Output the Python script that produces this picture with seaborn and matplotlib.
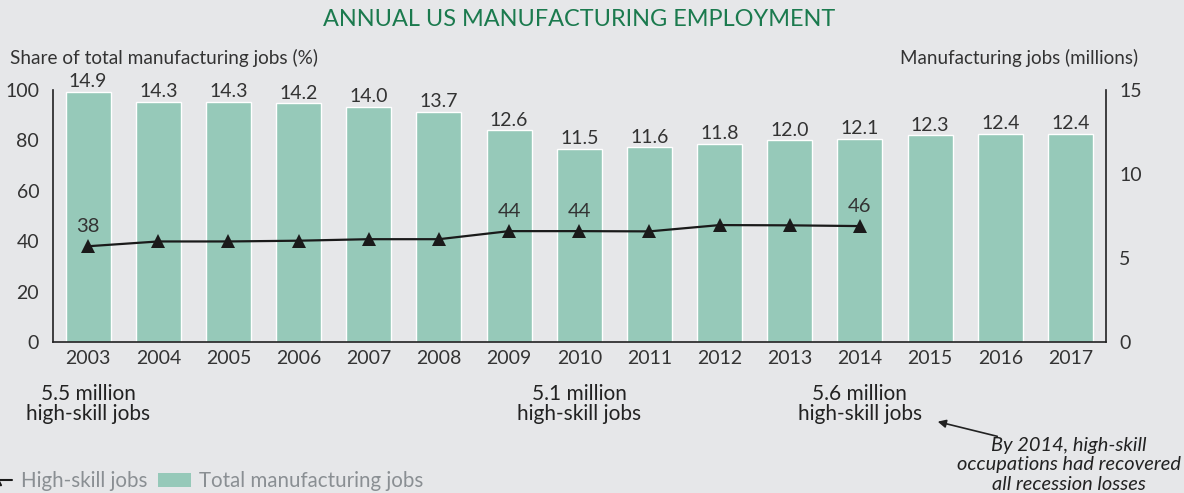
import numpy as np
import pandas as pd
import matplotlib
matplotlib.use("Agg")
import matplotlib.pyplot as plt
import matplotlib.transforms as mtransforms
from matplotlib.lines import Line2D
from matplotlib.patches import Patch
import seaborn as sns

years = ["2003", "2004", "2005", "2006", "2007", "2008", "2009", "2010",
         "2011", "2012", "2013", "2014", "2015", "2016", "2017"]
total_jobs = [14.9, 14.3, 14.3, 14.2, 14.0, 13.7, 12.6, 11.5, 11.6, 11.8,
              12.0, 12.1, 12.3, 12.4, 12.4]
skill_years = years[:12]
skill_share = [38, 39.9, 39.9, 40.2, 40.8, 40.8, 44, 44, 43.9, 46.4, 46.3, 46]
skill_labels = {"2003": "38", "2009": "44", "2010": "44", "2014": "46"}
left_ticks = [0, 20, 40, 60, 80, 100]
right_ticks = [0, 5, 10, 15]
notes = {"2003": "5.5 million\nhigh-skill jobs",
         "2010": "5.1 million\nhigh-skill jobs",
         "2014": "5.6 million\nhigh-skill jobs"}

BG = "#e6e7e9"
BAR = "#96c9b9"
TXT = "#333333"

sns.set_theme(style="white")
plt.rcParams["font.family"] = ["Lato", "DejaVu Sans"]

fig = plt.figure(figsize=(11.84, 4.93), dpi=100, facecolor=BG)
ax = fig.add_axes([0.0448, 0.3063, 0.8889, 0.5111])
ax2 = ax.twinx()
ax.set_zorder(ax2.get_zorder() + 1)
ax.patch.set_visible(False)
ax2.set_facecolor(BG)

df_bar = pd.DataFrame({"year": years, "jobs": total_jobs})
sns.barplot(data=df_bar, x="year", y="jobs", ax=ax2, color=BAR,
            saturation=1, width=0.64, order=years)
ax2.bar_label(ax2.containers[0], fmt="%.1f", padding=1, fontsize=14, color=TXT)

xpos = [years.index(y) for y in skill_years]
df_line = pd.DataFrame({"x": xpos, "share": skill_share})
sns.lineplot(data=df_line, x="x", y="share", ax=ax, color="#1a1a1a",
             linewidth=1.6, marker="^", markersize=10, markeredgewidth=0)
for y, lab in skill_labels.items():
    i = years.index(y)
    ax.annotate(lab, (i, skill_share[i]), xytext=(0, 8),
                textcoords="offset points", ha="center", va="bottom",
                fontsize=14.5, color=TXT)

for a in (ax, ax2):
    a.set_xlim(-0.5, len(years) - 0.5)
    a.set_xlabel("")
    a.set_ylabel("")
    a.tick_params(length=0)
ax.set_ylim(0, 100)
ax2.set_ylim(0, 15)
ax.set_yticks(left_ticks)
ax.set_yticklabels([str(t) for t in left_ticks], fontsize=14, color=TXT)
ax2.set_yticks(right_ticks)
ax2.set_yticklabels([str(t) for t in right_ticks], fontsize=14, color=TXT)
ax.tick_params(axis="y", pad=10)
ax2.tick_params(axis="y", pad=10)
ax.set_xticks(range(len(years)))
ax.set_xticklabels(years, fontsize=14, color=TXT)
ax.tick_params(axis="x", pad=6)
ax2.tick_params(axis="x", labelbottom=False)

for a in (ax, ax2):
    for s in a.spines.values():
        s.set_visible(False)
ax.spines["left"].set_visible(True)
ax.spines["bottom"].set_visible(True)
ax2.spines["right"].set_visible(True)
for s in (ax.spines["left"], ax.spines["bottom"], ax2.spines["right"]):
    s.set_color("#222222")
    s.set_linewidth(1.2)

fig.text(0.489, 0.960, "ANNUAL US MANUFACTURING EMPLOYMENT", ha="center",
         va="center", fontsize=16.9, color="#1b7a4e")
fig.text(0.0085, 0.882, "Share of total manufacturing jobs (%)", ha="left",
         va="center", fontsize=13.7, color=TXT)
fig.text(0.961, 0.882, "Manufacturing jobs (millions)", ha="right",
         va="center", fontsize=13.5, color=TXT)

trans = mtransforms.blended_transform_factory(ax.transData, ax.transAxes)
for y, txt in notes.items():
    ax.text(years.index(y), -0.165, txt, transform=trans, ha="center",
            va="top", fontsize=15, color="#222222", linespacing=1.0)

fig.text(0.903, 0.057, "By 2014, high-skill\noccupations had recovered\nall recession losses",
         ha="center", va="center", fontsize=14.4, style="italic",
         color="#222222", linespacing=1.2)
ax.annotate("", xy=(935, 493 - 421), xycoords="figure pixels",
            xytext=(1000, 493 - 437), textcoords="figure pixels",
            arrowprops=dict(arrowstyle="-|>", color="#222222", lw=1.2,
                            mutation_scale=12))

handles = [Line2D([0], [0], color="#1a1a1a", lw=1.5, marker="^", markersize=7),
           Patch(facecolor=BAR, edgecolor="none")]
leg = fig.legend(handles, ["High-skill jobs", "Total manufacturing jobs"],
                 loc="lower left", bbox_to_anchor=(-0.033, -0.034), ncol=2,
                 frameon=False, fontsize=14.8, handlelength=1.6,
                 handletextpad=0.4, columnspacing=0.55)
for t in leg.get_texts():
    t.set_color("#8a8f93")

fig.savefig("out.png", dpi=100, facecolor=BG)
